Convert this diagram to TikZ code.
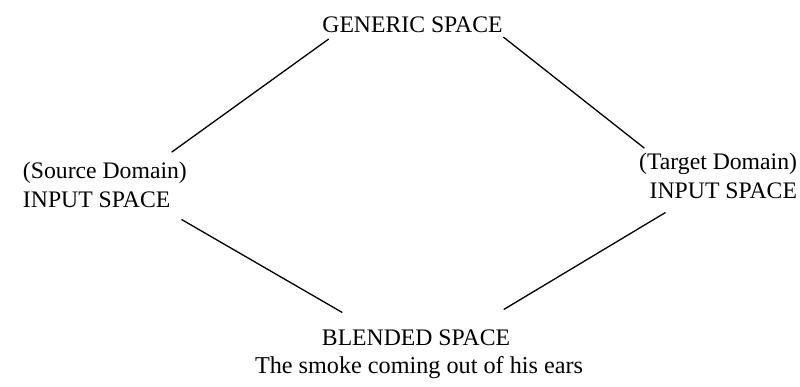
\documentclass[tikz,border=0pt]{standalone}
\usepackage{fontspec}
\setmainfont{Liberation Serif}
\usepackage{tikz}
\usetikzlibrary{positioning,calc}

\begin{document}
\begin{tikzpicture}[x=1pt, y=-1pt,
  spacelbl/.style={inner sep=0pt, outer sep=0pt, font={\fontsize{23.7}{29}\selectfont}},
  blendlink/.style={line width=1.3pt, line cap=round}
]
\useasboundingbox (0,0) rectangle (800,386);
\node[spacelbl, anchor=base] (gen) at (412.5,32) {GENERIC SPACE};
\node[spacelbl, anchor=north west, align=left] (src) at (23,162) {(Source Domain)\\INPUT SPACE};
\node[spacelbl, anchor=north east, align=right] (tgt) at (797,153) {(Target Domain)\\INPUT SPACE};
\node[spacelbl, anchor=base] (bld) at (416,345) {BLENDED SPACE};
\node[spacelbl, anchor=base, font={\fontsize{24.2}{29}\selectfont}] (ears) at (419,373) {The smoke coming out of his ears};
\draw[blendlink] ([shift={(6,7)}]gen.south west) -- ([shift={(-15,-10)}]src.north east);
\draw[blendlink] ([shift={(1,5)}]gen.south east) -- ([shift={(5,-5)}]tgt.north west);
\draw[blendlink] ([shift={(-5,12)}]src.south east) -- ([shift={(20,-17)}]bld.north west);
\draw[blendlink] ([shift={(26,14)}]tgt.south west) -- ([shift={(-6,-20)}]bld.north east);
\end{tikzpicture}
\end{document}
